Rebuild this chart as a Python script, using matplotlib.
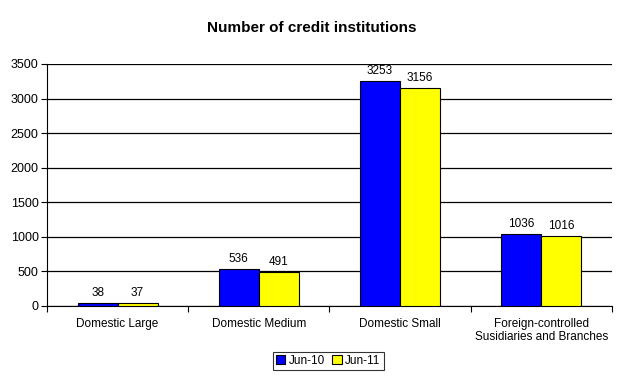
import matplotlib
matplotlib.use("Agg")
import matplotlib.pyplot as plt
import numpy as np

categories = ["Domestic Large", "Domestic Medium", "Domestic Small",
              "Foreign-controlled\nSusidiaries and Branches"]
jun10 = [38, 536, 3253, 1036]
jun11 = [37, 491, 3156, 1016]
series_labels = ["Jun-10", "Jun-11"]
yticks = [0, 500, 1000, 1500, 2000, 2500, 3000, 3500]

plt.rcParams['font.family'] = ['Liberation Sans', 'DejaVu Sans']

fig = plt.figure(figsize=(6.23, 3.82), dpi=100)
ax = fig.add_axes([0.0754, 0.199, 0.9066, 0.6335])

x = np.arange(len(categories))
w = 0.283
b1 = ax.bar(x - w/2, jun10, w, color="#0000FF", edgecolor="black", linewidth=0.8,
            label=series_labels[0], zorder=3)
b2 = ax.bar(x + w/2, jun11, w, color="#FFFF00", edgecolor="black", linewidth=0.8,
            label=series_labels[1], zorder=3)
for bars in (b1, b2):
    for r in bars:
        ax.annotate(f"{int(r.get_height())}", (r.get_x() + r.get_width()/2, r.get_height()),
                    xytext=(0, 3), textcoords="offset points", ha="center", va="bottom",
                    fontsize=8.5)

ax.set_xlim(-0.5, len(categories) - 0.5)
ax.set_ylim(0, 3500)
ax.set_yticks(yticks)
ax.set_yticklabels([str(t) for t in yticks], fontsize=9)
ax.yaxis.grid(True, color="black", linewidth=0.9, zorder=0)
ax.set_axisbelow(True)

ax.set_xticks(x)
ax.set_xticklabels(categories, fontsize=8.5, linespacing=1.1)
ax.tick_params(axis="x", length=0, pad=9)
ax.set_xticks(np.arange(len(categories) + 1) - 0.5, minor=True)
ax.tick_params(axis="x", which="minor", length=4, width=0.8, direction="out")
ax.tick_params(axis="y", length=4, width=0.8, direction="out", pad=2)

for s in ("top", "right"):
    ax.spines[s].set_visible(False)
for s in ("left", "bottom"):
    ax.spines[s].set_linewidth(0.8)

fig.text(0.5, 0.928, "Number of credit institutions", ha="center", va="center",
         fontsize=11, fontweight="bold")

leg = fig.legend(loc="center", bbox_to_anchor=(0.527, 0.055), ncol=2, fontsize=8.5,
                 frameon=True, fancybox=False, edgecolor="black", handlelength=0.8,
                 handleheight=0.8, handletextpad=0.3, columnspacing=0.6,
                 borderpad=0.25, borderaxespad=0)
leg.get_frame().set_linewidth(0.8)

fig.savefig("out.png", dpi=100)
